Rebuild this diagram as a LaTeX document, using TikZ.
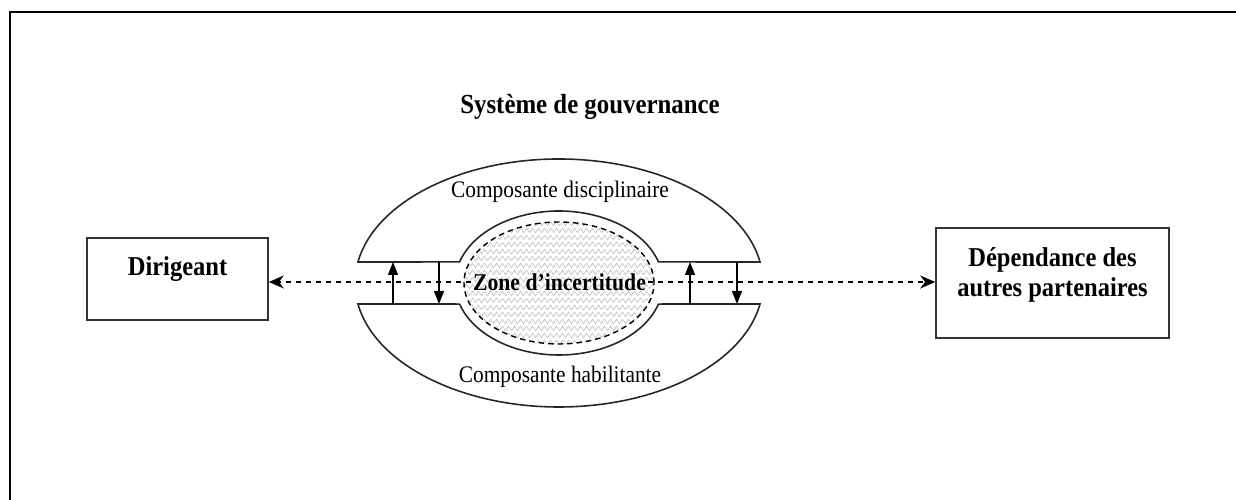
\documentclass[tikz,border=0pt]{standalone}
\usepackage{fontspec}
\setmainfont{Liberation Serif}[FakeStretch=0.9]
\usepackage{tikz}
\usetikzlibrary{arrows.meta,positioning,calc,decorations.pathmorphing}
\tikzset{
  box/.style    = {rectangle, draw=black!80, line width=0.9pt, align=center,
                   font=\fontsize{15.5}{17}\selectfont\bfseries},
  shell/.style  = {draw=black!85, line width=0.9pt, fill=white},
  darr/.style   = {-{Stealth[length=3mm,width=2.6mm]},
                   line width=1pt, dash pattern=on 1.1mm off 0.9mm},
  varr/.style   = {-{Triangle[length=2.6mm,width=2mm]}, line width=0.8pt},
  zigzag/.style = {draw=gray!45, line width=0.4pt, decorate,
                   decoration={zigzag, segment length=1.2mm, amplitude=0.45mm}},
}
\begin{document}
\begin{tikzpicture}
\useasboundingbox (0,0) rectangle (24.72,10);

%% frame
\draw[line width=1.5pt] (0.2,0) -- (0.2,9.76) -- (24.72,9.76);

%% centre of the governance system
\coordinate (C) at (11.18,4.34);

%% disciplinary (upper) and enabling (lower) components
\draw[shell] ($(C)+(170.25:4.08cm and 2.48cm)$)
  arc[start angle=170.25, end angle=9.75, x radius=4.08cm, y radius=2.48cm]
  -- ($(C)+(17:2.08cm and 1.44cm)$)
  arc[start angle=17, end angle=163, x radius=2.08cm, y radius=1.44cm] -- cycle;
\draw[shell] ($(C)+(189.75:4.08cm and 2.48cm)$)
  arc[start angle=189.75, end angle=350.25, x radius=4.08cm, y radius=2.48cm]
  -- ($(C)+(343:2.08cm and 1.44cm)$)
  arc[start angle=343, end angle=197, x radius=2.08cm, y radius=1.44cm] -- cycle;

%% zone of uncertainty
\begin{scope}
  \clip (C) ellipse [x radius=1.9cm, y radius=1.22cm];
  \foreach \k in {0,...,19}
    \draw[zigzag] ($(C)+(-2,-1.33+\k*0.14)$) -- ++(4,0);
\end{scope}
\draw[line width=0.8pt, dash pattern=on 1.1mm off 0.8mm]
  (C) ellipse [x radius=1.9cm, y radius=1.22cm];

%% nodes
\node[box, minimum width=3.62cm, minimum height=1.64cm,
      text height=0.4cm, text depth=0.52cm] (dir) at (3.55,4.42) {Dirigeant};
\node[box, minimum width=4.66cm, minimum height=2.2cm,
      text depth=0.45cm] (dep) at (21.05,4.34)
      {Dépendance des\\autres partenaires};

\node[font=\fontsize{15.7}{18}\selectfont\bfseries] (sys) at (11.8,7.86)
      {Système de gouvernance};
\node[font=\fontsize{13.5}{16}\selectfont] (disc) at (11.2,6.16)
      {Composante disciplinaire};
\node[font=\fontsize{13.5}{16}\selectfont] (hab) at (11.2,2.46)
      {Composante habilitante};
\node[font=\fontsize{13.7}{16}\selectfont\bfseries, inner xsep=1pt] (zone)
      at (11.19,4.36) {Zone d'incertitude};

%% arrows
\draw[darr] (zone.west) -- (zone.west -| dir.east);
\draw[darr] (zone.east) -- (zone.east -| dep.west);

\foreach \x/\n in {7.86/a,8.78/b,13.8/c,14.74/d} {
  \coordinate (top\n) at (\x,4.76);
  \coordinate (bot\n) at (\x,3.92);
}
\draw[varr] (bota) -- (topa);
\draw[varr] (topb) -- (botb);
\draw[varr] (botc) -- (topc);
\draw[varr] (topd) -- (botd);

\end{tikzpicture}
\end{document}
